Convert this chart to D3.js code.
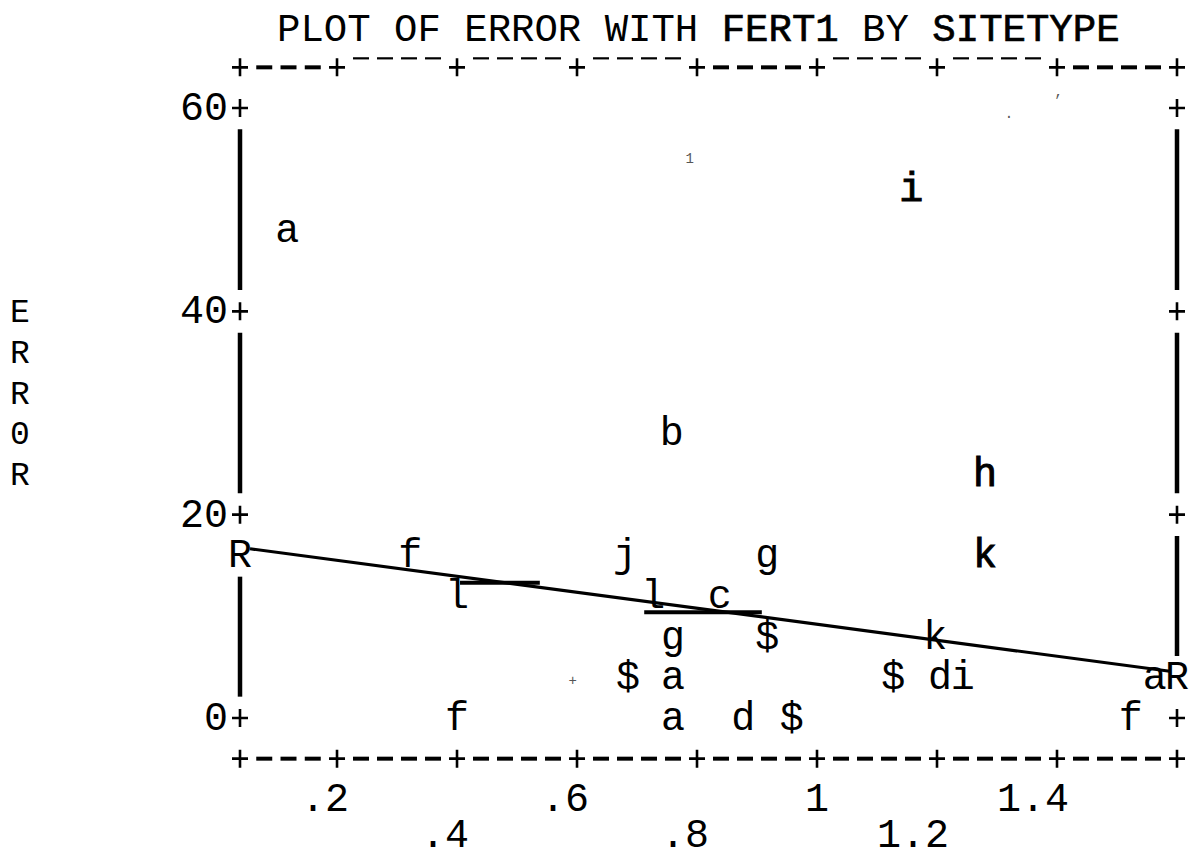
<!DOCTYPE html>
<html>
<head>
<meta charset="utf-8">
<script src="https://cdn.jsdelivr.net/npm/d3@7"></script>
<style>
  html, body { margin: 0; padding: 0; background: #fff; }
  svg { display: block; }
  text { font-family: "Liberation Mono", "DejaVu Sans Mono", monospace; fill: #000; }
</style>
</head>
<body>
<svg id="chart" width="1192" height="858"></svg>
<script>
// ---------------- data ----------------
const titleParts = ["PLOT OF ERROR WITH ", "FERT1", " BY ", "SITETYPE"];
const yAxisLabel = ["E", "R", "R", "0", "R"];

const xDomain = [0.0383, 1.6];
const yDomain = [0, 60];
const xTicks = [0.2, 0.4, 0.6, 0.8, 1.0, 1.2, 1.4];
const xTickLabels = [".2", ".4", ".6", ".8", "1", "1.2", "1.4"];
const yTicks = [0, 20, 40, 60];
const yTickLabels = ["0", "20", "40", "60"];

// plotted symbols (SITETYPE codes), FERT1 values, ERROR values
const pointChars = ["a", "i", "b", "h",
  "f", "j", "g", "k",
  "l", "l", "c",
  "g", "$", "k",
  "$", "a", "$", "d", "i", "a",
  "f", "a", "d", "$", "f"];
const pointX = [0.117, 1.157, 0.758, 1.280,
  0.322, 0.680, 0.917, 1.280,
  0.400, 0.727, 0.838,
  0.760, 0.917, 1.197,
  0.685, 0.760, 1.127, 1.205, 1.243, 1.563,
  0.400, 0.760, 0.877, 0.958, 1.523];
const pointY = [48, 52, 28, 24,
  16, 16, 16, 16,
  12, 12, 12,
  8, 8, 8,
  4, 4, 4, 4, 4, 4,
  0, 0, 0, 0, 0];
const heavyPoints = [1, 3, 7];

// regression line (hand drawn) and extra ruler strokes
const regLineX = [0.055, 1.588];
const regLineY = [16.65, 4.6];
const rulerX0 = [0.405, 0.712];
const rulerX1 = [0.538, 0.908];
const rulerY = [13.3, 10.4];

// faint scan specks
const speckChars = ["1", "+", ",", "."];
const speckX = [0.788, 0.593, 1.403, 1.32];
const speckY = [54.6, 3.2, 61.2, 59.0];

// ---------------- layout ----------------
const svg = d3.select("#chart");
const x = d3.scaleLinear().domain(xDomain).range([240, 1177]);
const y = d3.scaleLinear().domain(yDomain).range([718, 108]);
const rowStep = 4;                 // one printer line = 4 units
const rowPx = y(0) - y(rowStep);   // ≈ 40.7 px
const FS = 40;
const baseOff = 12;                // baseline offset from row centre

// printed "+" drawn as a small cross
function cross(g, cx, cy) {
  g.append("path")
    .attr("d", `M${cx - 8},${cy}H${cx + 8}M${cx},${cy - 9}V${cy + 9}`)
    .attr("stroke", "#000").attr("stroke-width", 2.6).attr("fill", "none");
}

// title
const title = svg.append("text")
  .attr("x", 277).attr("y", y(68) + 14)
  .style("font-size", "39px");
titleParts.forEach((t, i) => {
  title.append("tspan").text(t)
    .style("stroke", i % 2 === 1 ? "#000" : "none")
    .style("stroke-width", i % 2 === 1 ? 0.7 : 0);
});

// y axis label, one letter per printer line
svg.selectAll("text.ylab").data(yAxisLabel).join("text")
  .attr("class", "ylab")
  .attr("x", 20)
  .attr("y", (d, i) => y(40 - i * rowStep) + 11)
  .attr("text-anchor", "middle")
  .style("font-size", "33px")
  .text(d => d);

// ---- borders (top and bottom dashed lines with + at ticks) ----
const stops = [xDomain[0], ...xTicks, xDomain[1]];
function drawBorder(rowVal, boldSegs, raisedThin) {
  const yy = y(rowVal);
  const g = svg.append("g");
  for (let s = 0; s < stops.length - 1; s++) {
    const a = x(stops[s]), b = x(stops[s + 1]);
    const n = Math.round((b - a) / 24) - 1;
    const bold = boldSegs.includes(s);
    for (let k = 1; k <= n; k++) {
      const cx = a + (b - a) * k / (n + 1);
      const dy = bold ? yy : yy - (raisedThin ? 9 : 0);
      g.append("line")
        .attr("x1", cx - 8).attr("x2", cx + 8)
        .attr("y1", dy).attr("y2", dy)
        .attr("stroke", "#000")
        .attr("stroke-width", bold ? 4 : 2.2);
    }
  }
  stops.forEach(d => cross(g, x(d), yy));
}
drawBorder(64, [0, 4, 7], true);
drawBorder(-4, [0, 1, 2, 3, 4, 5, 6, 7], false);

// x tick labels (alternating two lines, last digit on the tick)
svg.selectAll("text.xlab").data(xTicks).join("text")
  .attr("class", "xlab")
  .attr("x", d => x(d) + 12)
  .attr("y", (d, i) => y(i % 2 === 0 ? -8 : -12) + (i % 2 === 0 ? baseOff : 7))
  .attr("text-anchor", "end")
  .style("font-size", FS + "px")
  .text((d, i) => xTickLabels[i]);

// y tick labels and + marks on both frame sides
svg.selectAll("text.ytl").data(yTicks).join("text")
  .attr("class", "ytl")
  .attr("x", x(xDomain[0]) - 12)
  .attr("y", d => y(d) + baseOff)
  .attr("text-anchor", "end")
  .style("font-size", FS + "px")
  .text((d, i) => yTickLabels[i]);
const tickG = svg.append("g");
[xDomain[0], xDomain[1]].forEach(xv => {
  yTicks.forEach(t => cross(tickG, x(xv), y(t)));
});

// vertical frame lines, broken at ticks and at regression markers
const rMarkRows = regLineY.map(v => Math.round(v / rowStep) * rowStep);
function frameSide(xv, skipRow) {
  const rows = [];
  for (let r = yDomain[0] + rowStep; r < yDomain[1]; r += rowStep) {
    if (r % 20 !== 0 && r !== skipRow) rows.push(r);
  }
  const runs = [];
  rows.forEach(r => {
    const last = runs[runs.length - 1];
    if (last && r - last[1] === rowStep) last[1] = r; else runs.push([r, r]);
  });
  svg.selectAll(null).data(runs).join("line")
    .attr("x1", x(xv)).attr("x2", x(xv))
    .attr("y1", d => y(d[1]) - rowPx / 2 + 1)
    .attr("y2", d => y(d[0]) + rowPx / 2 - 1)
    .attr("stroke", "#000").attr("stroke-width", 4.5);
}
frameSide(xDomain[0], rMarkRows[0]);
frameSide(xDomain[1], rMarkRows[1]);

// regression markers "R" at the frame
svg.selectAll("text.rmark").data([0, 1]).join("text")
  .attr("class", "rmark")
  .attr("x", i => x(xDomain[i]))
  .attr("y", i => y(rMarkRows[i]) + baseOff)
  .attr("text-anchor", "middle")
  .style("font-size", FS + "px")
  .text("R");

// points
const points = pointChars.map((c, i) => ({ c, x: pointX[i], y: pointY[i], heavy: heavyPoints.includes(i) }));
svg.selectAll("text.pt").data(points).join("text")
  .attr("class", "pt")
  .attr("x", d => x(d.x))
  .attr("y", d => y(d.y) + baseOff)
  .attr("text-anchor", "middle")
  .style("font-size", FS + "px")
  .style("stroke", d => d.heavy ? "#000" : "none")
  .style("stroke-width", d => d.heavy ? 1 : 0)
  .text(d => d.c);

// regression line
const line = d3.line().x(d => x(d[0])).y(d => y(d[1]));
svg.append("path")
  .attr("d", line(regLineX.map((v, i) => [v, regLineY[i]])))
  .attr("fill", "none").attr("stroke", "#000").attr("stroke-width", 3.2);

// extra ruler strokes
svg.selectAll("line.ruler").data(rulerY).join("line")
  .attr("class", "ruler")
  .attr("x1", (d, i) => x(rulerX0[i])).attr("x2", (d, i) => x(rulerX1[i]))
  .attr("y1", d => y(d)).attr("y2", d => y(d))
  .attr("stroke", "#000").attr("stroke-width", 4);

// scan specks
svg.selectAll("text.speck").data(speckChars).join("text")
  .attr("class", "speck")
  .attr("x", (d, i) => x(speckX[i]))
  .attr("y", (d, i) => y(speckY[i]))
  .attr("text-anchor", "middle")
  .style("font-size", "14px")
  .style("fill", "#555")
  .text(d => d);
</script>
</body>
</html>
